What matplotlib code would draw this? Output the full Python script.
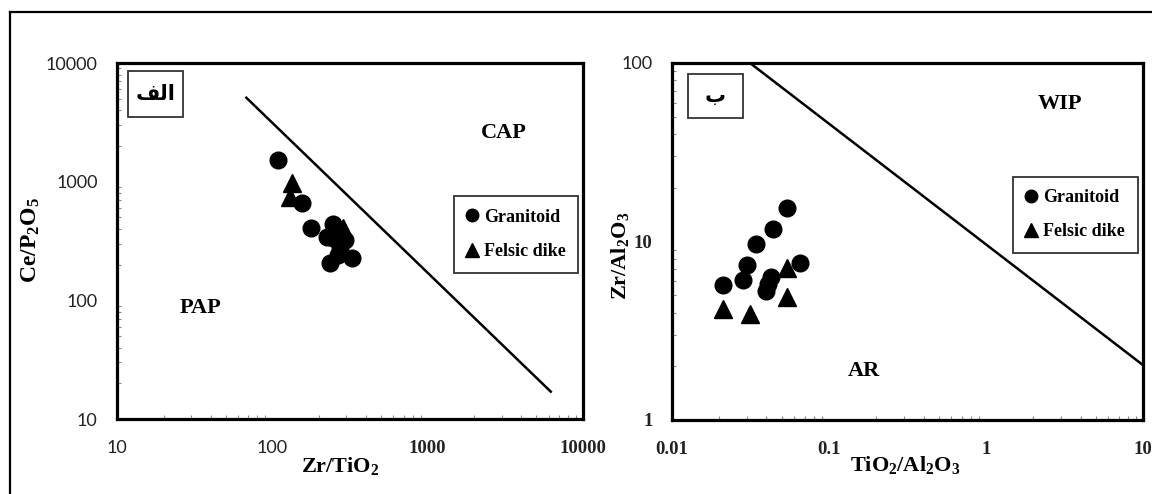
import matplotlib.pyplot as plt
from matplotlib.lines import Line2D
from matplotlib.patches import Rectangle
from matplotlib.ticker import LogLocator, NullFormatter

plt.rcParams['mathtext.fontset'] = 'custom'
plt.rcParams['mathtext.rm'] = 'Liberation Serif:bold'
plt.rcParams['mathtext.bf'] = 'Liberation Serif:bold'
plt.rcParams['mathtext.it'] = 'Liberation Serif:bold'

SERIF = 'Liberation Serif'
SANS = 'Lato'

# panel الف : Zr/TiO2 against Ce/P2O5
gran_zr_ti = [109, 155, 177, 245, 224, 247, 294, 273, 266, 235, 327]
gran_ce_p = [1520, 665, 404, 440, 344, 334, 322, 283, 241, 205, 226]
dike_zr_ti = [133, 130, 284]
dike_ce_p = [970, 750, 404]
bound_a_x = [68, 6200]
bound_a_y = [5100, 17]
ticks_a_x = [10, 100, 1000, 10000]
ticks_a_y = [10, 100, 1000, 10000]

# panel ب : TiO2/Al2O3 against Zr/Al2O3
gran_ti_al = [0.0543, 0.0438, 0.0343, 0.0299, 0.0284, 0.0210, 0.0425, 0.0397, 0.0409, 0.0653]
gran_zr_al = [15.5, 11.7, 9.7, 7.4, 6.1, 5.7, 6.35, 5.3, 5.8, 7.55]
dike_ti_al = [0.0543, 0.0543, 0.0212, 0.0314]
dike_zr_al = [7.1, 4.9, 4.2, 3.9]
bound_b_x = [0.0314, 10]
bound_b_y = [100, 2.03]
ticks_b_x = [0.01, 0.1, 1, 10]
ticks_b_y = [1, 10, 100]

fig = plt.figure(figsize=(11.52, 4.94), dpi=100)
ax1 = fig.add_axes([0.1016, 0.1518, 0.4045, 0.7206])
ax2 = fig.add_axes([0.5833, 0.1498, 0.4089, 0.7227])


def style_axes(ax, xt, yt, xfam, yfam):
    ax.set_xscale('log')
    ax.set_yscale('log')
    ax.set_xlim(xt[0], xt[-1])
    ax.set_ylim(yt[0], yt[-1])
    ax.set_xticks(xt, labels=[f'{t:g}' for t in xt])
    ax.set_yticks(yt, labels=[f'{t:g}' for t in yt])
    ax.xaxis.set_minor_locator(LogLocator(base=10, subs=range(2, 10)))
    ax.yaxis.set_minor_locator(LogLocator(base=10, subs=range(2, 10)))
    ax.xaxis.set_minor_formatter(NullFormatter())
    ax.yaxis.set_minor_formatter(NullFormatter())
    ax.tick_params(which='major', length=0)
    ax.tick_params(axis='x', which='major', pad=15)
    ax.tick_params(axis='y', which='major', pad=14)
    ax.tick_params(which='minor', direction='in', length=3, width=0.8, color='#888888')
    for sp in ax.spines.values():
        sp.set_linewidth(2.3)
    labels = list(zip(ax.get_xticklabels(), xfam)) + list(zip(ax.get_yticklabels(), yfam))
    for lab, fam in labels:
        lab.set_family(fam)
        if fam == SERIF:
            lab.set_fontsize(13.5)
            lab.set_weight('bold')
        else:
            lab.set_fontsize(13)
        lab.set_color('#222222')


def tag_box(ax, x0, y0, x1, y1, text):
    ax.add_patch(Rectangle((x0, y0), x1 - x0, y1 - y0, transform=ax.transAxes,
                           fill=False, edgecolor='#333333', lw=1.3, zorder=3))
    ax.text((x0 + x1) / 2, (y0 + y1) / 2, text, transform=ax.transAxes,
            ha='center', va='center', fontsize=15, fontweight='bold',
            family='DejaVu Sans', zorder=4)


def add_legend(ax, x, y):
    handles = [Line2D([], [], marker='o', color='k', ls='none', markersize=9),
               Line2D([], [], marker='^', color='k', ls='none', markersize=10)]
    leg = ax.legend(handles, ['Granitoid', 'Felsic dike'], loc='upper left',
                    bbox_to_anchor=(x, y), borderaxespad=0, fancybox=False,
                    edgecolor='#333333', framealpha=1, handlelength=0.6,
                    handletextpad=0.35, labelspacing=0.95, borderpad=0.7,
                    prop={'family': SERIF, 'weight': 'bold', 'size': 13})
    leg.get_frame().set_linewidth(1.3)


region_font = dict(family=SERIF, fontweight='bold', fontsize=16,
                   ha='center', va='center')

# left diagram
ax1.plot(bound_a_x, bound_a_y, color='k', lw=1.8)
ax1.plot(gran_zr_ti, gran_ce_p, 'o', color='k', markersize=12)
ax1.plot(dike_zr_ti, dike_ce_p, '^', color='k', markersize=13)
style_axes(ax1, ticks_a_x, ticks_a_y, [SANS, SANS, SERIF, SERIF], [SANS] * 4)
ax1.set_xlabel(r'$\mathbf{Zr/TiO_2}$', fontsize=16)
ax1.set_ylabel(r'$\mathbf{Ce/P_2O_5}$', fontsize=17)
ax1.xaxis.set_label_coords(0.479, -0.100)
ax1.yaxis.set_label_coords(-0.161, 0.503)
ax1.text(0.830, 0.804, 'CAP', transform=ax1.transAxes, **region_font)
ax1.text(0.180, 0.312, 'PAP', transform=ax1.transAxes, **region_font)
tag_box(ax1, 0.0236, 0.848, 0.1416, 0.9775, '\ufed2\ufedf\ufe8d')
add_legend(ax1, 0.723, 0.626)

# right diagram
ax2.plot(bound_b_x, bound_b_y, color='k', lw=1.8)
ax2.plot(gran_ti_al, gran_zr_al, 'o', color='k', markersize=12)
ax2.plot(dike_ti_al, dike_zr_al, '^', color='k', markersize=13)
style_axes(ax2, ticks_b_x, ticks_b_y, [SERIF] * 4, [SERIF, SERIF, SANS])
ax2.set_xlabel(r'$\mathbf{TiO_2/Al_2O_3}$', fontsize=16)
ax2.set_ylabel(r'$\mathbf{Zr/Al_2O_3}$', fontsize=16)
ax2.xaxis.set_label_coords(0.495, -0.095)
ax2.yaxis.set_label_coords(-0.087, 0.459)
ax2.text(0.824, 0.885, 'WIP', transform=ax2.transAxes, **region_font)
ax2.text(0.408, 0.137, 'AR', transform=ax2.transAxes, **region_font)
tag_box(ax2, 0.034, 0.846, 0.1507, 0.969, 'ب')
add_legend(ax2, 0.7247, 0.6815)

# outer frame around both diagrams
fig.add_artist(Line2D([9.5 / 1152, 1], [1 - 12.5 / 494] * 2,
                      transform=fig.transFigure, color='k', lw=1.6))
fig.add_artist(Line2D([9.5 / 1152] * 2, [0, 1 - 12.5 / 494],
                      transform=fig.transFigure, color='k', lw=1.6))

fig.savefig('out.png', dpi=100)
